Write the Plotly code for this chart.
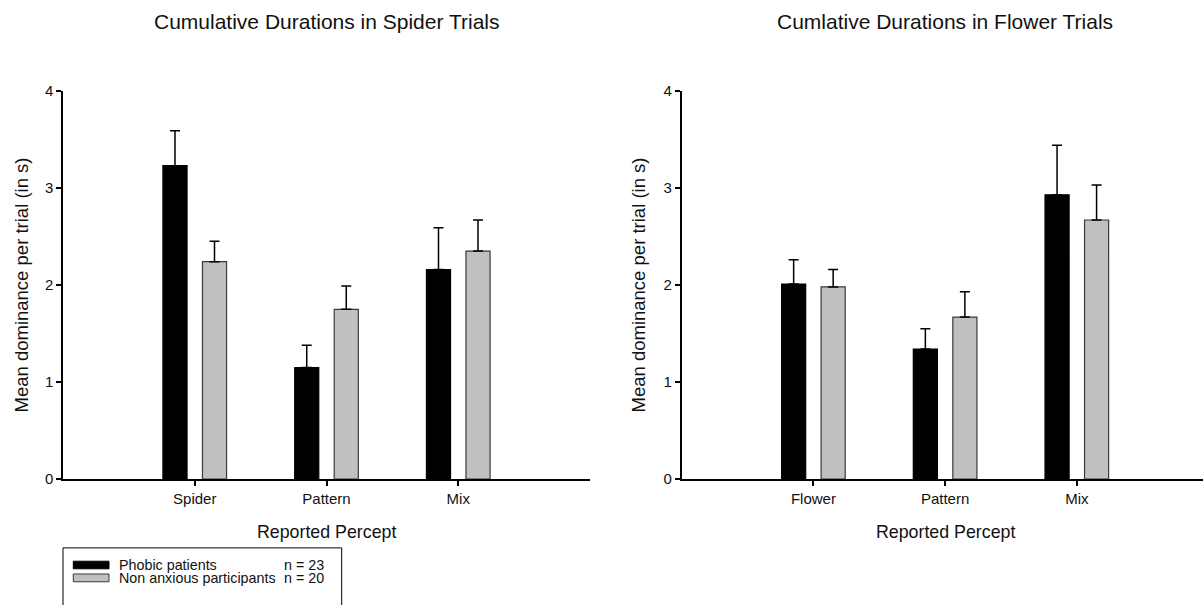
import plotly.graph_objects as go

W, H = 1203, 605

# ---------------- data ----------------
groups = ["Phobic patients", "Non anxious participants"]
group_n = ["n = 23", "n = 20"]

spider_cats = ["Spider", "Pattern", "Mix"]
spider_phobic = [3.23, 1.15, 2.16]
spider_phobic_err = [0.36, 0.23, 0.43]
spider_control = [2.24, 1.75, 2.35]
spider_control_err = [0.21, 0.24, 0.32]

flower_cats = ["Flower", "Pattern", "Mix"]
flower_phobic = [2.01, 1.34, 2.93]
flower_phobic_err = [0.25, 0.21, 0.51]
flower_control = [1.98, 1.67, 2.67]
flower_control_err = [0.18, 0.26, 0.36]

titles = ["Cumulative Durations in Spider Trials", "Cumlative Durations in Flower Trials"]
x_title = "Reported Percept"
y_title = "Mean dominance per trial (in s)"
y_ticks = [0, 1, 2, 3, 4]

# ---------------- style ----------------
FONT = "Liberation Sans, Arial, sans-serif"
TXT = "#111111"
fills = ["#000000", "#c0c0c0"]
outlines = ["#000000", "#3a3a3a"]

# the page draws the paper slightly shorter than requested; map target pixels
V_OFF, V_H = 7.5, 590.1


def X(px):
    return px / W


def Y(py):
    return 1 - (py - V_OFF) / V_H


y_dom = [Y(479.3), Y(89.7)]

fig = go.Figure()

panels = [
    (spider_cats, [spider_phobic, spider_control], [spider_phobic_err, spider_control_err], "x", "y"),
    (flower_cats, [flower_phobic, flower_control], [flower_phobic_err, flower_control_err], "x2", "y2"),
]

for cats, vals, errs, xa, ya in panels:
    for gi in range(2):
        fig.add_trace(go.Bar(
            x=cats, y=vals[gi], name=groups[gi], xaxis=xa, yaxis=ya,
            marker=dict(color=fills[gi], line=dict(color=outlines[gi], width=1.2)),
            error_y=dict(type="data", array=errs[gi], arrayminus=[0] * len(cats),
                         symmetric=False, color="#000000", thickness=1.5, width=5),
            showlegend=False,
        ))

axis_common = dict(
    showgrid=False, zeroline=False, showline=True, linecolor="#000000", linewidth=1.5,
    ticks="outside", ticklen=5, tickwidth=1.5, tickcolor="#000000",
    tickfont=dict(family=FONT, size=15, color=TXT), fixedrange=True,
)

fig.update_layout(
    width=W, height=H, autosize=False,
    margin=dict(l=0, r=0, t=0, b=0),
    paper_bgcolor="white", plot_bgcolor="white",
    barmode="group", bargap=0.4, bargroupgap=0.39,
    xaxis=dict(domain=[X(63), X(590)], anchor="y", type="category",
               categoryorder="array", categoryarray=spider_cats,
               range=[-1, 3], **axis_common),
    yaxis=dict(domain=y_dom, anchor="x", range=[0, 4], tickvals=y_ticks, **axis_common),
    xaxis2=dict(domain=[X(681.7), 1.0], anchor="y2", type="category",
                categoryorder="array", categoryarray=flower_cats,
                range=[-1, 2.958], **axis_common),
    yaxis2=dict(domain=y_dom, anchor="x2", range=[0, 4], tickvals=y_ticks, **axis_common),
)

ann = []
# titles, centred on the middle category
for i, (xr, cats) in enumerate([("x", spider_cats), ("x2", flower_cats)]):
    ann.append(dict(text=titles[i], xref=xr, x=cats[1], yref="paper", y=Y(20.5),
                    xanchor="center", yanchor="middle", showarrow=False,
                    font=dict(family=FONT, size=21, color=TXT)))
    ann.append(dict(text=x_title, xref=xr, x=cats[1], yref="paper", y=Y(532),
                    xanchor="center", yanchor="middle", showarrow=False,
                    font=dict(family=FONT, size=17.8, color=TXT)))
for xc in [22, 639]:
    ann.append(dict(text=y_title, xref="paper", x=X(xc), yref="paper", y=Y(285),
                    xanchor="center", yanchor="middle", textangle=-90, showarrow=False,
                    font=dict(family=FONT, size=18.5, color=TXT)))

# legend (drawn manually)
shapes = [dict(type="rect", xref="paper", yref="paper", x0=X(63), x1=X(341.7),
               y0=Y(640), y1=Y(548.3), line=dict(color="#000000", width=1), fillcolor="white",
               layer="above")]
rows = [(561.7, 569.3), (574.5, 582.3)]
for gi in range(2):
    top, bot = rows[gi]
    shapes.append(dict(type="rect", xref="paper", yref="paper", x0=X(73.3), x1=X(109),
                       y0=Y(bot), y1=Y(top), fillcolor=fills[gi],
                       line=dict(color=outlines[gi], width=1), layer="above"))
    yc = (top + bot) / 2
    ann.append(dict(text=groups[gi], xref="paper", x=X(116.5), yref="paper", y=Y(yc),
                    xanchor="left", yanchor="middle", showarrow=False,
                    font=dict(family=FONT, size=14.3, color=TXT)))
    ann.append(dict(text=group_n[gi], xref="paper", x=X(325.5), yref="paper", y=Y(yc),
                    xanchor="right", yanchor="middle", showarrow=False,
                    font=dict(family=FONT, size=14.3, color=TXT)))

fig.update_layout(annotations=ann, shapes=shapes)

fig.write_html(
    "out.html",
    config={"displayModeBar": False},
    post_script="document.body.style.margin='0';document.body.style.overflow='hidden';",
)
